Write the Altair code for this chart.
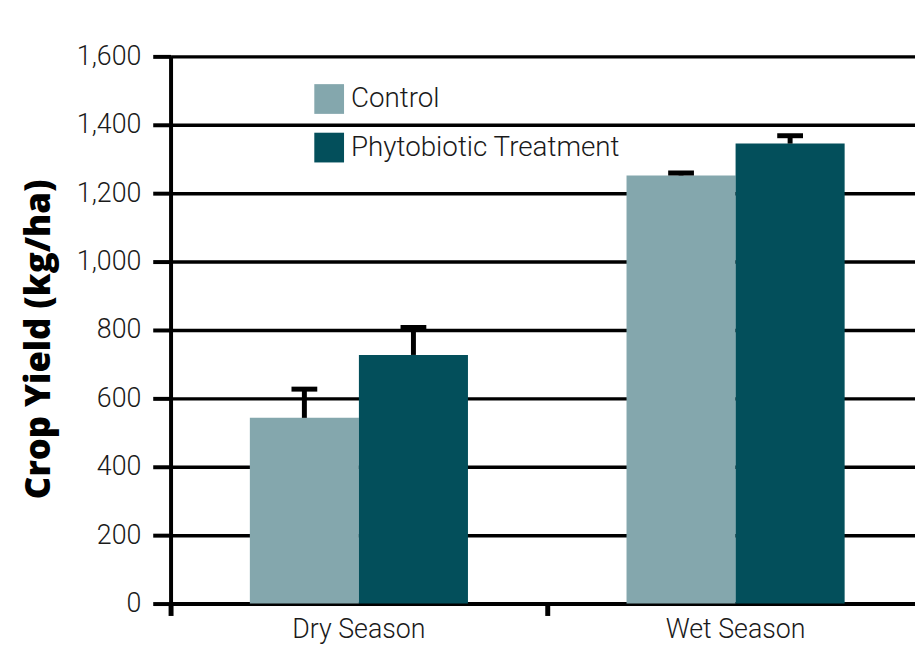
import altair as alt
import pandas as pd

seasons = ["Dry Season", "Dry Season", "Wet Season", "Wet Season"]
groups = ["Control", "Phytobiotic Treatment", "Control", "Phytobiotic Treatment"]
yields = [543, 727, 1252, 1345]
errors = [84, 80, 7, 23]

group_order = ["Control", "Phytobiotic Treatment"]
group_colors = ["#84a7ad", "#034f5b"]

df = pd.DataFrame({"season": seasons, "group": groups, "yield": yields, "err": errors})
df["upper"] = df["yield"] + df["err"]

FONT = "Roboto"

x_enc = alt.X(
    "season:N",
    title=None,
    scale=alt.Scale(range=[0, 760], paddingInner=0, paddingOuter=0),
    axis=alt.Axis(
        bandPosition=0,
        domainColor="black",
        domainWidth=4,
        tickColor="black",
        tickWidth=5,
        tickSize=12,
        labelFont=FONT,
        labelFontWeight=300,
        labelFontSize=27,
        labelColor="#1a1a1a",
        labelPadding=1,
        labelAngle=0,
        grid=False,
    ),
)
xoff = alt.XOffset("group:N", sort=group_order,
                   scale=alt.Scale(paddingOuter=0.727, paddingInner=0))

y_scale = alt.Scale(domain=[0, 1600], nice=False)

bars = alt.Chart(df).mark_bar().encode(
    x=x_enc,
    xOffset=xoff,
    y=alt.Y(
        "yield:Q",
        scale=y_scale,
        title="Crop Yield (kg/ha)",
        axis=alt.Axis(
            values=[0, 200, 400, 600, 800, 1000, 1200, 1400, 1600],
            format=",.0f",
            grid=True,
            gridColor="black",
            gridWidth=3.5,
            gridOpacity=1,
            domainColor="black",
            domainWidth=4,
            tickColor="black",
            tickWidth=4,
            tickSize=18,
            labelFont=FONT,
            labelFontWeight=300,
            labelFontSize=27,
            labelColor="#1a1a1a",
            labelPadding=12,
            titleFont="Open Sans",
            titleFontWeight=800,
            titleFontSize=35,
            titleColor="black",
            titleAngle=270,
            titleAlign="center",
            titleBaseline="middle",
            titleX=-133,
            titleY=285,
        ),
    ),
    color=alt.Color(
        "group:N",
        sort=group_order,
        scale=alt.Scale(domain=group_order, range=group_colors),
        legend=alt.Legend(
            title=None,
            orient="none",
            legendX=145,
            legendY=28,
            symbolType="square",
            symbolSize=900,
            symbolStrokeWidth=0,
            labelFont=FONT,
            labelFontWeight=300,
            labelFontSize=28,
            labelColor="#1a1a1a",
            labelOffset=7,
            labelLimit=0,
            rowPadding=19,
        ),
    ),
)

rules = alt.Chart(df).mark_rule(color="black", strokeWidth=5).encode(
    x=alt.X("season:N"),
    xOffset=xoff,
    y=alt.Y("yield:Q", scale=y_scale),
    y2="upper:Q",
)

caps = alt.Chart(df).mark_tick(color="black", thickness=5, size=26, opacity=1).encode(
    x=alt.X("season:N"),
    xOffset=xoff,
    y=alt.Y("upper:Q", scale=y_scale),
)

chart = alt.layer(bars, rules, caps).properties(
    width=751,
    height=552,
    autosize=alt.AutoSizeParams(type="none"),
    padding={"left": 164, "top": 46, "right": 0, "bottom": 40},
).configure_view(stroke=None).configure(background="white")

chart.save("out.html", embed_options={"renderer": "svg", "actions": False})
